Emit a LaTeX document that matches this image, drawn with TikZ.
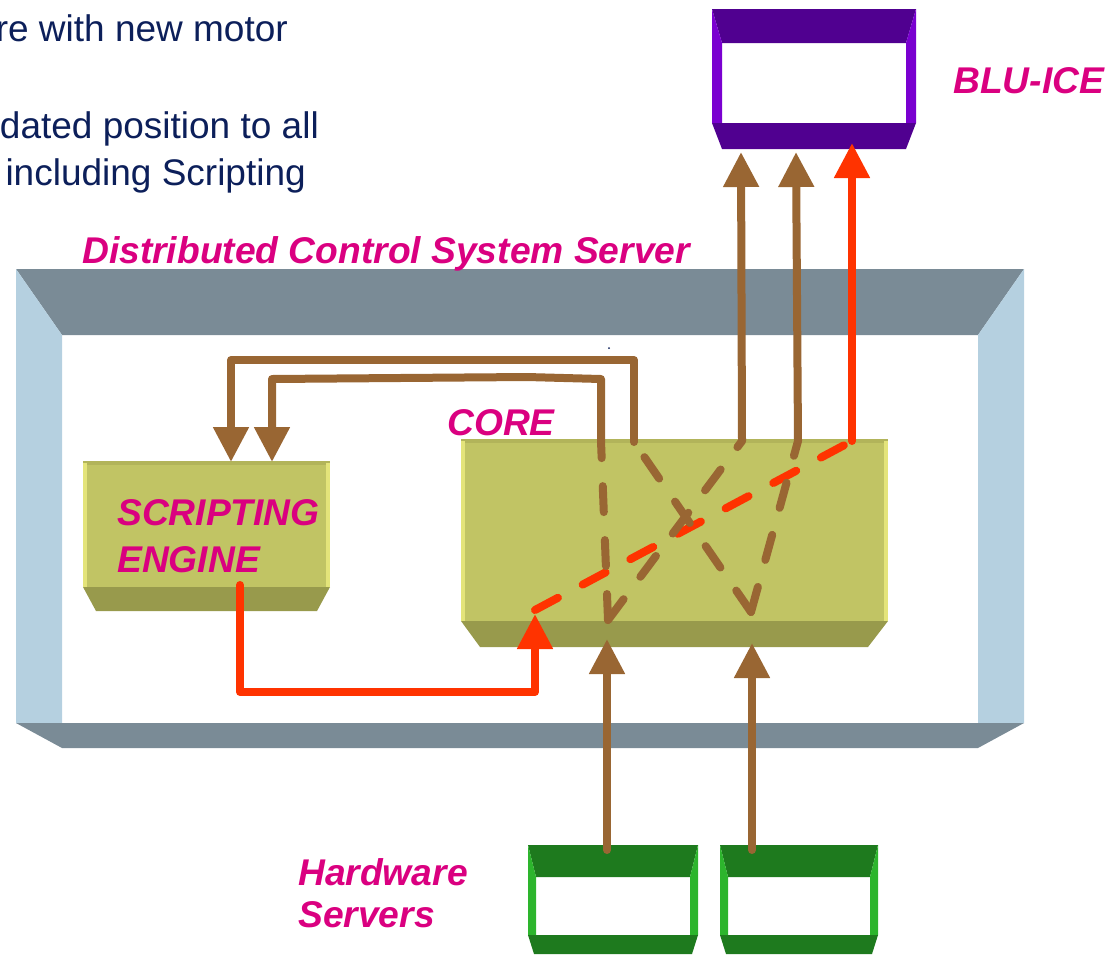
\documentclass[tikz,border=0pt]{standalone}
\usepackage{fontspec}
\setmainfont{Liberation Sans}
\usetikzlibrary{arrows.meta}
\definecolor{bandgray}{RGB}{122,139,150}
\definecolor{bandblue}{RGB}{181,208,224}
\definecolor{oliveface}{RGB}{193,196,100}
\definecolor{olivetop}{RGB}{178,180,90}
\definecolor{olivebot}{RGB}{152,154,76}
\definecolor{oliveside}{RGB}{228,228,122}
\definecolor{purpdark}{RGB}{80,0,144}
\definecolor{purpside}{RGB}{122,0,208}
\definecolor{grndark}{RGB}{30,122,30}
\definecolor{grnside}{RGB}{45,181,45}
\definecolor{brownln}{RGB}{153,102,51}
\definecolor{redln}{RGB}{255,51,0}
\definecolor{magtext}{RGB}{218,0,128}
\definecolor{navytext}{RGB}{12,31,90}
\tikzset{
  labeltext/.style={inner sep=0pt, text=magtext, font=\fontsize{37.2}{40}\selectfont\bfseries\itshape},
  notetext/.style={inner sep=0pt, text=navytext, font=\fontsize{37}{42}\selectfont, anchor=base east},
  bline/.style={draw=brownln, line width=8pt, line cap=round, line join=round},
  rline/.style={draw=redln, line width=8pt, line cap=round, line join=round},
  dashline/.style={dash pattern=on 26pt off 28pt},
  bhead/.style={-{Triangle[length=35pt,width=34pt]}},
}
\begin{document}
\begin{tikzpicture}[x=1pt,y=-1pt]
\useasboundingbox (0,0) rectangle (1116,954);
\clip (0,0) rectangle (1116,954);
% server frame
\fill[bandgray] (16,269) -- (1024,269) -- (978,335) -- (62,335) -- cycle;
\fill[bandblue] (16,269) -- (62,335) -- (62,723) -- (16,723) -- cycle;
\fill[bandblue] (1024,269) -- (978,335) -- (978,723) -- (1024,723) -- cycle;
\fill[bandgray] (16,723) -- (1024,723) -- (978,748) -- (62,748) -- cycle;
% scripting engine box
\fill[oliveface] (83,461) rectangle (330,587);
\fill[olivetop] (83,461) rectangle (330,465);
\fill[oliveside] (83,463) rectangle (87,587);
\fill[oliveside] (326,463) rectangle (330,587);
\fill[olivebot] (83,587) -- (330,587) -- (317,611) -- (96,611) -- cycle;
% core box
\fill[oliveface] (461,439) rectangle (888,621);
\fill[olivetop] (461,439) rectangle (888,443);
\fill[oliveside] (461,441) rectangle (465,621);
\fill[oliveside] (884,441) rectangle (888,621);
\fill[olivebot] (461,621) -- (888,621) -- (868,647) -- (480,647) -- cycle;
% BLU-ICE box
\fill[purpdark] (712,9) -- (916,9) -- (906,43) -- (722,43) -- cycle;
\fill[purpside] (712,9) -- (722,43) -- (722,123) -- (712,123) -- cycle;
\fill[purpside] (916,9) -- (906,43) -- (906,123) -- (916,123) -- cycle;
\fill[purpdark] (712,123) -- (916,123) -- (906,149) -- (722,149) -- cycle;
% hardware server boxes
\foreach \xa/\xb in {528/698, 720/878}{
  \fill[grndark] (\xa,845) -- (\xb,845) -- (\xb-8,877) -- (\xa+8,877) -- cycle;
  \fill[grnside] (\xa,845) -- (\xa+8,877) -- (\xa+8,935) -- (\xa,935) -- cycle;
  \fill[grnside] (\xb,845) -- (\xb-8,877) -- (\xb-8,935) -- (\xb,935) -- cycle;
  \fill[grndark] (\xa,935) -- (\xb,935) -- (\xb-6,954) -- (\xa+6,954) -- cycle;
}
% texts
\node[notetext] (n1) at (288,41) {re with new motor};
\node[notetext] (n2) at (319,138) {dated position to all};
\node[notetext] (n3) at (306,185) {including Scripting};
\node[labeltext, anchor=base west] (title) at (82,263) {Distributed Control System Server};
\node[labeltext, anchor=base west] (bluice) at (953,93) {BLU-ICE};
\node[labeltext, anchor=base west] (core) at (447,435) {CORE};
\node[labeltext, anchor=base west] (se1) at (117,525) {SCRIPTING};
\node[labeltext, anchor=base west] (se2) at (117,572) {ENGINE};
\node[labeltext, anchor=base west] (hw1) at (298,885) {Hardware};
\node[labeltext, anchor=base west] (hw2) at (298,927) {Servers};
\fill[navytext] (609,348) circle (1);
% connector points
\coordinate (hwAout) at (607,850);
\coordinate (coreA) at (607,639);
\coordinate (coreAin) at (608,620);
\coordinate (hwBout) at (752,850);
\coordinate (coreB) at (752,643);
\coordinate (coreBin) at (751,612);
\coordinate (topA) at (742,441);
\coordinate (topB) at (798,441);
\coordinate (topC) at (852,441);
\coordinate (topD) at (601,441);
\coordinate (topE) at (634,442);
\coordinate (bluA) at (741,152);
\coordinate (bluB) at (796,152);
\coordinate (bluC) at (852,143);
\coordinate (seA) at (231,462);
\coordinate (seB) at (272,462);
\coordinate (seOut) at (240,585);
\coordinate (coreRed) at (535,614);
\coordinate (coreRedIn) at (535,610);
% red connectors
\draw[rline, bhead] (seOut) -- (240,692) -- (535,692) -- (coreRed);
\draw[rline, dashline] (coreRedIn) -- (topC);
\draw[rline, bhead] (topC) -- (bluC);
% brown connectors from hardware servers
\draw[bline, bhead] (hwAout) -- (coreA);
\draw[bline, bhead] (hwBout) -- (coreB);
% HW1 -> BLU-ICE
\draw[bline, dashline] (coreAin) -- (topA);
\draw[bline, bhead] (topA) -- (bluA);
% HW1 -> scripting engine
\draw[bline, dashline] (coreAin) -- (topD);
\draw[bline, bhead] (topD) -- (601,379) -- (527,377) -- (272,379) -- (seB);
% HW2 -> scripting engine
\draw[bline, dashline] (coreBin) -- (topE);
\draw[bline, bhead] (topE) -- (634,360) -- (231,360) -- (seA);
% HW2 -> BLU-ICE
\draw[bline, dashline] (coreBin) -- (topB);
\draw[bline, bhead] (topB) -- (bluB);
\end{tikzpicture}
\end{document}
